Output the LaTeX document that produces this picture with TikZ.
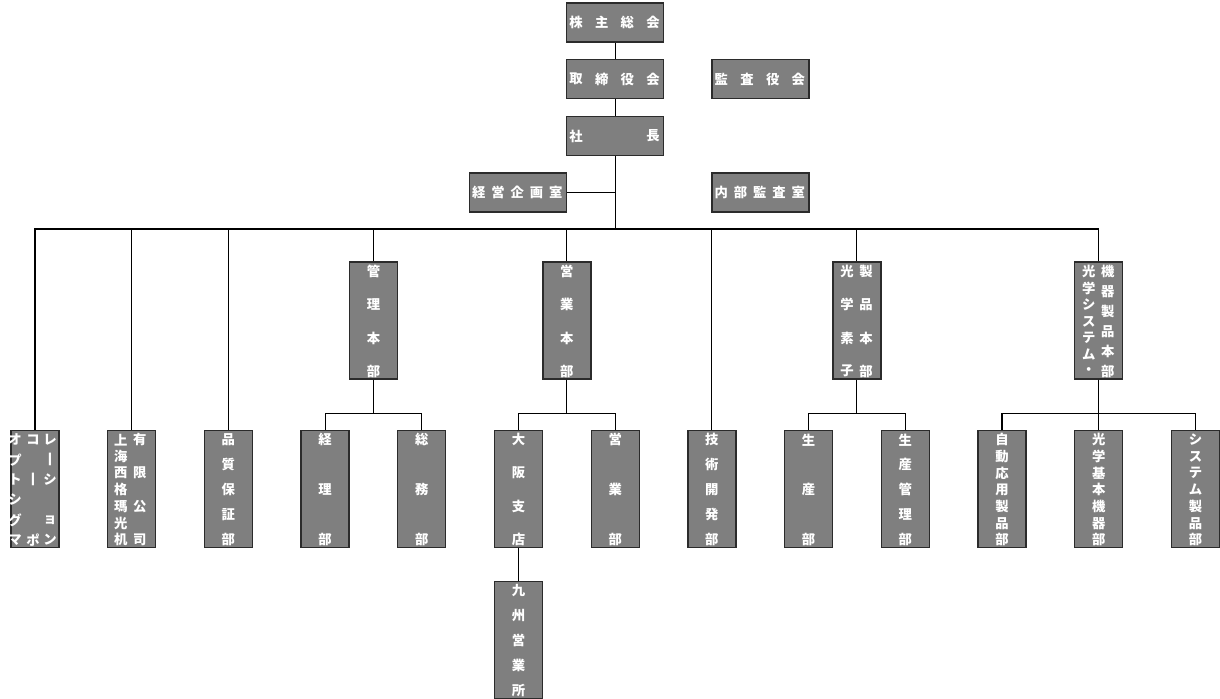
\documentclass[tikz,border=0pt]{standalone}
\usepackage{fontspec}
\newfontfamily\jpfont{Noto Sans CJK JP}
\definecolor{boxgray}{HTML}{7F7F7F}
\definecolor{edge}{HTML}{2B2B2B}
\tikzset{
	org/.style={draw=edge,fill=boxgray,line width=1pt,inner sep=0pt},
	wide/.style={org,minimum width=72.75pt,minimum height=29.25pt},
	tall/.style={org,minimum width=36pt,minimum height=87.75pt},
	moji/.style={text=white,inner sep=0pt,font=\jpfont\bfseries\fontsize{10}{10}\selectfont},
	wire/.style={line width=0.8pt}
}
\newcommand\yoko[3]{%
	\foreach \c [count=\i from 0] in {#3} \path (#1.west) ++(10+\i*#2,0) node[moji]{\c};}
\newcommand\tate[4]{%
	\foreach \c [count=\i from 0] in {#4} \path (#1.north) ++(#2,10+\i*#3) node[moji]{\c};}
\begin{document}
\begin{tikzpicture}[x=0.75pt,y=-0.75pt]
	\useasboundingbox (0,0) rectangle (1220,699);
	\foreach \x/\y/\n in {615.2/22.5/kabu,615.2/79/tori,760.5/79/kansa,
	615.2/136/shacho,518/192.5/kikaku,760.5/192.5/naibu}
	\path (\x,\y) node[wide](\n){};
	\foreach \x/\n in {373.45/kanri,566.85/eigyo,856.95/kogaku,1098.7/sysbu}
	\path (\x,320.5) node[tall](\n){};
	\foreach \x/\n in {35/opto,131.7/shanghai,228.4/hinshitsu,325.1/keiri,
	421.8/somu,518.5/osaka,615.2/eigyobu,711.9/gijutsu,808.6/seisan,
	905.3/seikan,1002/jido,1098.7/kihon,1195.4/sysprod}
	\path (\x,489) node[tall](\n){};
	\path (518.5,640) node[tall](kyushu){};
	\coordinate (bus) at (615.2,229);
	\draw[wire] (kabu)--(tori) (tori)--(shacho) (shacho)--(bus)
	(kikaku)--(kikaku-|bus) (osaka)--(kyushu);
	\foreach \n in {opto,shanghai,hinshitsu,kanri,eigyo,gijutsu,kogaku,sysbu}
	\draw[wire] (bus) -| (\n);
	\foreach \p/\c in {kanri/keiri,kanri/somu,eigyo/osaka,eigyo/eigyobu,
	kogaku/seisan,kogaku/seikan,sysbu/jido,sysbu/kihon,sysbu/sysprod}
	\draw[wire] (\p.south) -- ++(0,34) -| (\c);
	\yoko{kabu}{25.67}{株,主,総,会}
	\yoko{tori}{25.67}{取,締,役,会}
	\yoko{kansa}{25.67}{監,査,役,会}
	\yoko{shacho}{77}{社,長}
	\yoko{kikaku}{19.25}{経,営,企,画,室}
	\yoko{naibu}{19.25}{内,部,監,査,室}
	\tate{kanri}{0}{33.3}{管,理,本,部}
	\tate{eigyo}{0}{33.3}{営,業,本,部}
	\tate{kogaku}{-10}{33.3}{光,学,素,子}
	\tate{kogaku}{9}{33.3}{製,品,本,部}
	\tate{sysbu}{-10}{16.67}{光,学,シ,ス,テ,ム,・}
	\tate{sysbu}{9}{20}{機,器,製,品,本,部}
	\tate{opto}{-20}{20}{オ,プ,ト,シ,グ,マ}
	\tate{opto}{-2}{20}{コ,,丨,,,ポ}
	\tate{opto}{15}{20}{レ,丨,シ,,ョ,ン}
	\tate{shanghai}{-11}{16.67}{上,海,西,格,瑪,光,机}
	\tate{shanghai}{8}{16.67}{有,,限,,公,,司}
	\tate{hinshitsu}{0}{25}{品,質,保,証,部}
	\tate{keiri}{0}{50}{経,理,部}
	\tate{somu}{0}{50}{総,務,部}
	\tate{osaka}{0}{33.3}{大,阪,支,店}
	\tate{eigyobu}{0}{50}{営,業,部}
	\tate{gijutsu}{0}{25}{技,術,開,発,部}
	\tate{seisan}{0}{50}{生,産,部}
	\tate{seikan}{0}{25}{生,産,管,理,部}
	\tate{jido}{0}{16.67}{自,動,応,用,製,品,部}
	\tate{kihon}{0}{16.67}{光,学,基,本,機,器,部}
	\tate{sysprod}{0}{16.67}{シ,ス,テ,ム,製,品,部}
	\tate{kyushu}{0}{25}{九,州,営,業,所}
\end{tikzpicture}
\end{document}
